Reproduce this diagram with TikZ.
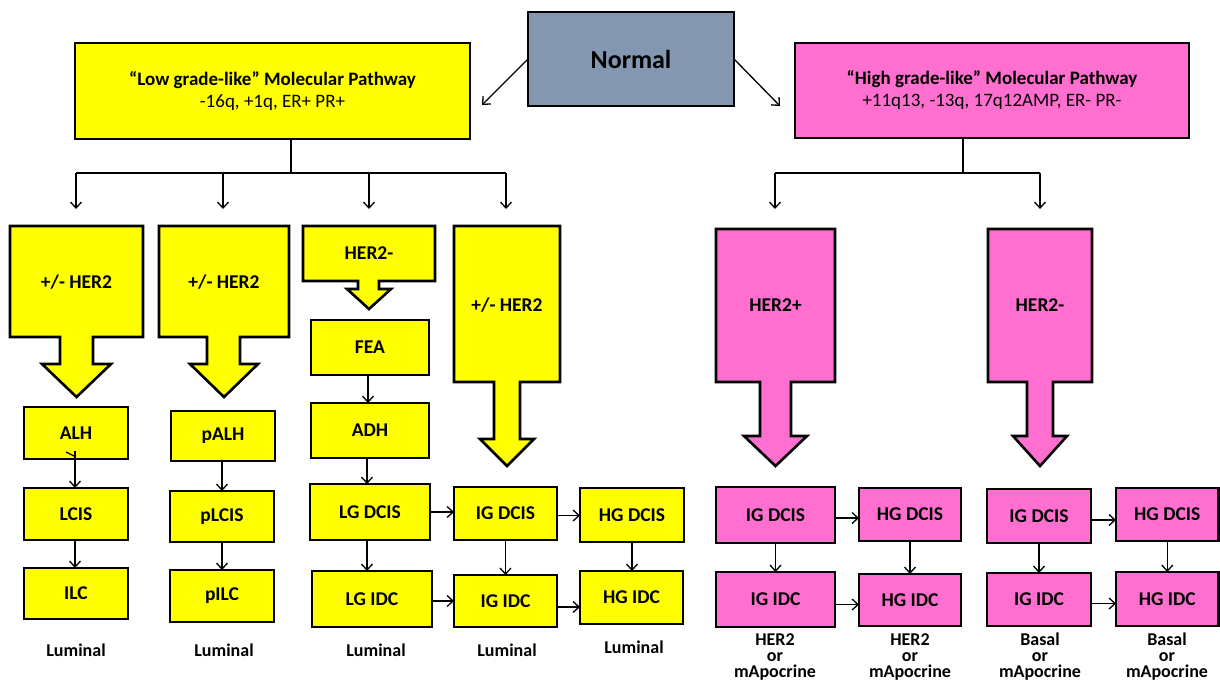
\documentclass[tikz,border=0pt]{standalone}
\usepackage{fontspec}
\setmainfont{Carlito}
\usetikzlibrary{arrows.meta}
\definecolor{ylw}{HTML}{FFFF00}
\definecolor{pnk}{HTML}{FF6FCF}
\definecolor{nrm}{HTML}{8497B0}
\tikzset{
 box/.style={draw=black, line width=2.6pt, outer sep=0pt, inner sep=0pt, align=center,
   font=\bfseries\fontsize{19.5}{21}\selectfont},
 ybox/.style={box, fill=ylw},
 pbox/.style={box, fill=pnk},
 arr/.style={-{Straight Barb[length=6pt,width=11pt]}, line width=1.3pt},
 trunk/.style={line width=2pt},
 callout/.style={draw=black, line width=2.6pt, line join=miter},
 ctext/.style={font=\bfseries\fontsize{19.5}{21}\selectfont, inner sep=0pt},
 lbl/.style={font=\bfseries\fontsize{18}{16}\selectfont, align=center, inner sep=0pt},
}
\newcommand{\rbox}[7]{\node[#1, anchor=north west, minimum width={(#4)-(#3)}, minimum height={(#6)-(#5)}] (#2) at (#3,#5) {#7};}
\begin{document}
\begin{tikzpicture}[x=1pt,y=-1pt]
\useasboundingbox[fill=white] (0,0) rectangle (1220,681);

% top boxes
\node[box, fill=nrm, anchor=north west, minimum width=206, minimum height=94,
  font=\bfseries\fontsize{26}{28}\selectfont] (nrm) at (528,12) {Normal};
\rbox{ybox}{low}{75}{470}{43}{139}{}
\node[font=\fontsize{19}{22}\selectfont, align=center, inner sep=0pt] (lowt) at (low) {\textbf{“Low grade-like” Molecular Pathway}\\-16q, +1q, ER+ PR+};
\rbox{pbox}{high}{795}{1189}{43}{138}{}
\node[font=\fontsize{19}{22}\selectfont, align=center, inner sep=0pt] (hight) at (high) {\textbf{“High grade-like” Molecular Pathway}\\+11q13, -13q, 17q12AMP, ER- PR-};

\coordinate (lowtip) at (482,105);
\coordinate (hightip) at (780,106);
\draw[arr] (nrm.west) -- (lowtip);
\draw[arr] (nrm.east) -- (hightip);

% left tree
\coordinate (lj) at (291,173);
\coordinate (l1) at (76,209);
\coordinate (l2) at (223,209);
\coordinate (l3) at (369,209);
\coordinate (l4) at (506,209);
\draw[trunk] (low.south -| lj) -- (lj);
\draw[trunk] (l1 |- lj) -- (l4 |- lj);
\foreach \c in {l1,l2,l3,l4} \draw[arr] (\c |- lj) -- (\c);

% right tree
\coordinate (rj) at (963,173);
\coordinate (r1) at (775,209);
\coordinate (r2) at (1040,209);
\draw[trunk] (high.south -| rj) -- (rj);
\draw[trunk] (r1 |- rj) -- (r2 |- rj);
\foreach \c in {r1,r2} \draw[arr] (\c |- rj) -- (\c);

% callouts
\draw[callout, fill=ylw] (10,226) -- (143,226) -- (143,337) -- (93,337) -- (93,364) -- (111,364) -- (76.5,397) -- (42,364) -- (60,364) -- (60,337) -- (10,337) -- cycle;
\node[ctext] (c1) at (76.5,282) {+/- HER2};
\draw[callout, fill=ylw] (159,226) -- (289,226) -- (289,337) -- (240,337) -- (240,364) -- (258,364) -- (224,397) -- (190,364) -- (207,364) -- (207,337) -- (159,337) -- cycle;
\node[ctext] (c2) at (224,282) {+/- HER2};
\draw[callout, fill=ylw] (303,226) -- (435,226) -- (435,281) -- (379,281) -- (379,289) -- (391,289) -- (369,309) -- (347,289) -- (358,289) -- (358,281) -- (303,281) -- cycle;
\node[ctext] (c3) at (369,253) {HER2-};
\draw[callout, fill=ylw] (454,226) -- (560,226) -- (560,382) -- (520,382) -- (520,439) -- (534,439) -- (507,466) -- (480,439) -- (494,439) -- (494,382) -- (454,382) -- cycle;
\node[ctext] (c4) at (507,305) {+/- HER2};
\draw[callout, fill=pnk] (716,229) -- (835,229) -- (835,382) -- (791,382) -- (791,436) -- (807,436) -- (775.5,466) -- (744,436) -- (760,436) -- (760,382) -- (716,382) -- cycle;
\node[ctext] (c5) at (775.5,305) {HER2+};
\draw[callout, fill=pnk] (988,229) -- (1092,229) -- (1092,382) -- (1053,382) -- (1053,436) -- (1067,436) -- (1040,466) -- (1013,436) -- (1027,436) -- (1027,382) -- (988,382) -- cycle;
\node[ctext] (c6) at (1040,305) {HER2-};

% column 1
\rbox{ybox}{alh}{24}{128}{407}{459}{ALH}
\rbox{ybox}{lcis}{24}{128}{488}{540}{LCIS}
\rbox{ybox}{ilc}{24}{128}{568}{619}{ILC}
% column 2
\rbox{ybox}{palh}{171}{275}{411}{461}{pALH}
\rbox{ybox}{plcis}{170}{274}{491}{542}{pLCIS}
\rbox{ybox}{pilc}{170}{274}{570}{622}{pILC}
% column 3
\rbox{ybox}{fea}{311}{429}{320}{375}{FEA}
\rbox{ybox}{adh}{311}{429}{403}{458}{ADH}
\rbox{ybox}{lgd}{310}{430}{484}{540}{LG DCIS}
\rbox{ybox}{lgi}{312}{432}{571}{627}{LG IDC}
% column 4, 5
\rbox{ybox}{igd}{454}{557}{487}{540}{IG DCIS}
\rbox{ybox}{igi}{454}{557}{575}{627}{IG IDC}
\rbox{ybox}{hgd}{580}{684}{488}{542}{HG DCIS}
\rbox{ybox}{hgi}{580}{683}{571}{624}{HG IDC}
% pink group 1
\rbox{pbox}{pigd}{716}{835}{487}{543}{IG DCIS}
\rbox{pbox}{phgd}{859}{961}{488}{541}{HG DCIS}
\rbox{pbox}{pigi}{716}{835}{572}{627}{IG IDC}
\rbox{pbox}{phgi}{859}{961}{574}{626}{HG IDC}
% pink group 2
\rbox{pbox}{bigd}{987}{1091}{489}{543}{IG DCIS}
\rbox{pbox}{bhgd}{1116}{1218.5}{488}{541}{HG DCIS}
\rbox{pbox}{bigi}{987}{1091}{573}{626}{IG IDC}
\rbox{pbox}{bhgi}{1116}{1218.5}{572}{626}{HG IDC}

% small connectors
\draw[line width=1.3pt] ([xshift=-2pt,yshift=3pt]alh.south) -- ++(-8,-4);
\draw[arr] ([xshift=-1pt,yshift=8pt]alh.south) -- ([xshift=-1pt]alh.south |- lcis.north);
\draw[arr] ([xshift=-1pt]lcis.south) -- ([xshift=-1pt]lcis.south |- ilc.north);
\draw[arr] ([xshift=-1pt]palh.south) -- ([xshift=-1pt]palh.south |- plcis.north);
\draw[arr] (plcis.south) -- (plcis.south |- pilc.north);
\draw[arr] ([xshift=-2pt]fea.south) -- ([xshift=-2pt]fea.south |- adh.north);
\draw[arr] ([xshift=-3pt]adh.south) -- ([xshift=-3pt]adh.south |- lgd.north);
\draw[arr] ([xshift=-3pt]lgd.south) -- ([xshift=-3pt]lgd.south |- lgi.north);
\draw[arr] (lgd.east) -- (lgd.east -| igd.west);
\draw[arr] ([yshift=-2pt]lgi.east) -- ([yshift=-2pt]lgi.east -| igi.west);
\draw[arr] ([yshift=-2pt]igd.east) -- ([yshift=-2pt]igd.east -| hgd.west);
\draw[arr] ([yshift=-6pt]igi.east) -- ([yshift=-6pt]igi.east -| hgi.west);
\draw[arr] (igd.south) -- (igd.south |- igi.north);
\draw[arr] (hgd.south) -- (hgd.south |- hgi.north);
\draw[arr] (pigd.south) -- (pigd.south |- pigi.north);
\draw[arr] (phgd.south) -- (phgd.south |- phgi.north);
\draw[arr] ([yshift=-3pt]pigd.east) -- ([yshift=-3pt]pigd.east -| phgd.west);
\draw[arr] ([yshift=-5pt]pigi.east) -- ([yshift=-5pt]pigi.east -| phgi.west);
\draw[arr] (bigd.south) -- (bigd.south |- bigi.north);
\draw[arr] (bhgd.south) -- (bhgd.south |- bhgi.north);
\draw[arr] ([yshift=-4pt]bigd.east) -- ([yshift=-4pt]bigd.east -| bhgd.west);
\draw[arr] ([yshift=-4pt]bigi.east) -- ([yshift=-4pt]bigi.east -| bhgi.west);

% bottom labels
\node[lbl] (lb1) at (76,650) {Luminal};
\node[lbl] (lb2) at (224,650) {Luminal};
\node[lbl] (lb3) at (376,650) {Luminal};
\node[lbl] (lb4) at (507,650) {Luminal};
\node[lbl] (lb5) at (634,647) {Luminal};
\node[lbl] (lb6) at (775,657) {HER2\\or\\mApocrine};
\node[lbl] (lb7) at (910,657) {HER2\\or\\mApocrine};
\node[lbl] (lb8) at (1040,657) {Basal\\or\\mApocrine};
\node[lbl] (lb9) at (1167,657) {Basal\\or\\mApocrine};
\end{tikzpicture}
\end{document}
